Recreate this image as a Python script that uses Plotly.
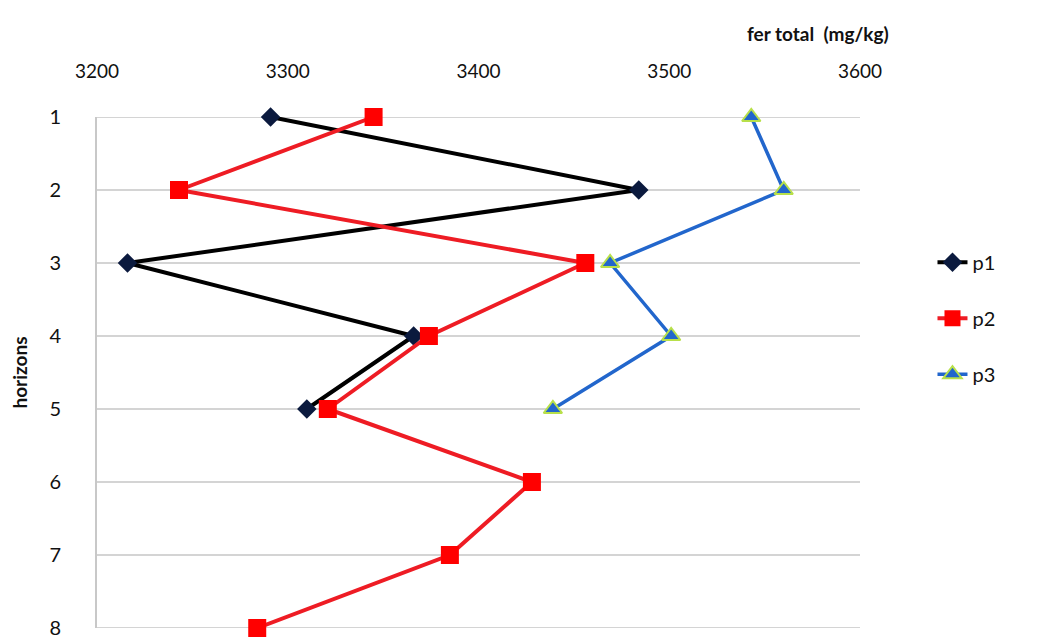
import plotly.graph_objects as go

horizons_p1 = [1, 2, 3, 4, 5]
p1 = [3291, 3484, 3216, 3366, 3310]
horizons_p2 = [1, 2, 3, 4, 5, 6, 7, 8]
p2 = [3345, 3243, 3456, 3374, 3321, 3428, 3385, 3284]
horizons_p3 = [1, 2, 3, 4, 5]
p3 = [3543, 3560, 3469, 3501, 3439]
x_ticks = [3200, 3300, 3400, 3500, 3600]
y_ticks = [1, 2, 3, 4, 5, 6, 7, 8]

FONT = "Lato"
TXT = "#111111"
GRID = "#d4d4d4"

fig = go.Figure()
# edge gridlines (plotly omits grid at the range edges)
for yv in (y_ticks[0], y_ticks[-1]):
    fig.add_hline(y=yv, line=dict(color=GRID, width=2), layer="below")

fig.add_trace(go.Scatter(
    x=p1, y=horizons_p1, name="p1", mode="lines+markers", legendgroup="a",
    cliponaxis=False,
    line=dict(color="#000000", width=4),
    marker=dict(symbol="diamond", size=15, color="#0b1a3e", line=dict(width=0)),
))
fig.add_trace(go.Scatter(
    x=p2, y=horizons_p2, name="p2", mode="lines+markers", legendgroup="b",
    cliponaxis=False,
    line=dict(color="#ee1c24", width=4),
    marker=dict(symbol="square", size=18, color="#ff0000", line=dict(width=0)),
))
fig.add_trace(go.Scatter(
    x=p3, y=horizons_p3, name="p3", mode="lines+markers", legendgroup="c",
    cliponaxis=False,
    line=dict(color="#2266cc", width=3.5),
    marker=dict(symbol="triangle-up", size=16, color="#2266cc",
                line=dict(width=2, color="#b8e04a")),
))

fig.update_layout(
    width=1049, height=641,
    margin=dict(l=89, r=197, t=109, b=21),
    paper_bgcolor="white", plot_bgcolor="white",
    font=dict(family=FONT, size=19, color=TXT),
    showlegend=True,
    legend=dict(x=1.095, xanchor="left", y=0.754, yanchor="top",
                font=dict(size=20, color=TXT),
                tracegroupgap=27, traceorder="grouped",
                bgcolor="rgba(0,0,0,0)"),
    annotations=[dict(
        text="<b>fer total  (mg/kg)</b>", xref="paper", yref="paper",
        x=1.04, y=1.164, xanchor="right", yanchor="middle", showarrow=False,
        font=dict(family=FONT, size=19, color=TXT),
    )],
)
fig.update_xaxes(
    side="top", range=[3200, 3600], tickvals=x_ticks, automargin=False,
    showgrid=False, zeroline=False, showline=False, ticks="",
    ticklabelstandoff=34,
    tickfont=dict(family=FONT, size=19, color=TXT),
)
fig.update_yaxes(
    range=[8, 1], tickvals=y_ticks, autorange=False, automargin=False,
    showgrid=True, gridcolor=GRID, gridwidth=2,
    zeroline=False, showline=True, linecolor="#c8c8c8", linewidth=2,
    ticks="", ticklabelstandoff=30,
    tickfont=dict(family=FONT, size=20, color=TXT),
    title=dict(text="<b>horizons</b>", standoff=18,
               font=dict(family=FONT, size=19, color=TXT)),
)

fig.write_html("out.html")
